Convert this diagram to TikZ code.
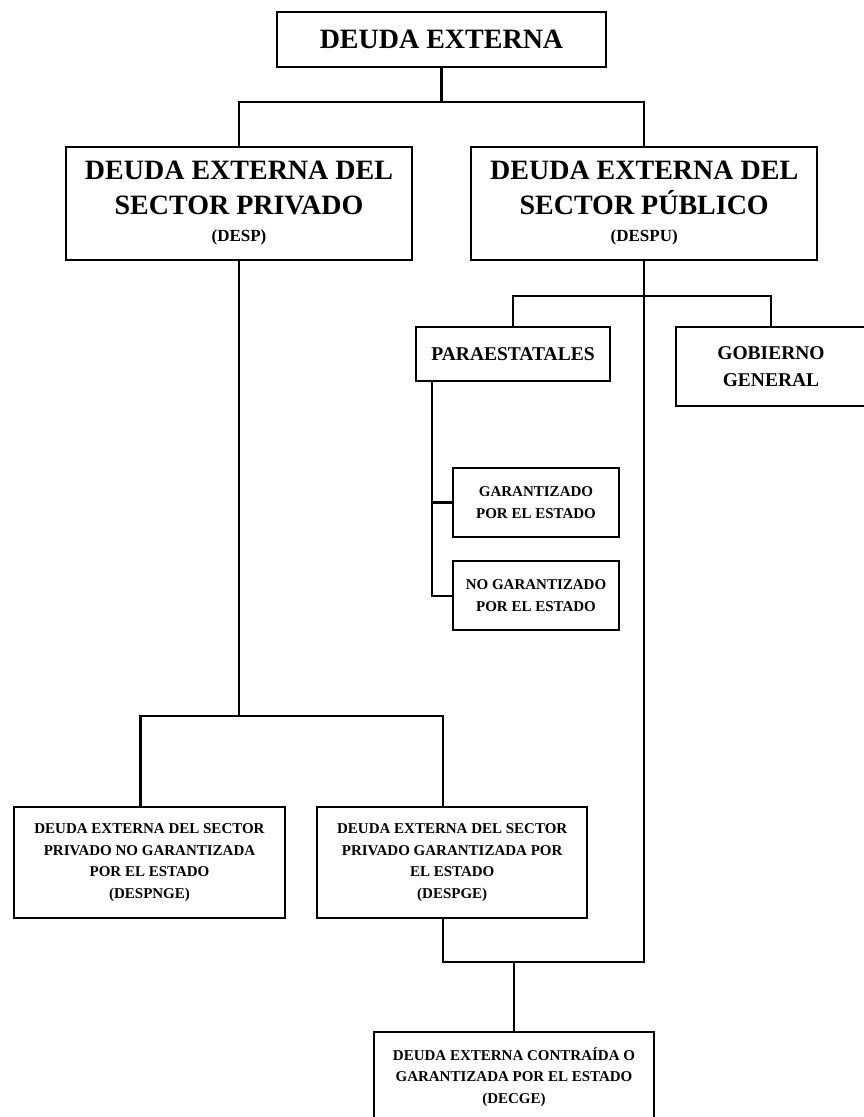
\documentclass[tikz,border=0pt]{standalone}
\usepackage{fontspec}
\setmainfont{Liberation Serif}
\usetikzlibrary{positioning,calc}

\begin{document}
\begin{tikzpicture}[
    x=1pt, y=-1pt,
    box/.style={rectangle, draw, line width=2.2pt, inner sep=0pt, align=center},
    bigbox/.style={box, minimum width=346pt, minimum height=113pt,
                   font=\bfseries\fontsize{28}{35}\selectfont},
    midbox/.style={box, font=\bfseries\fontsize{19.5}{27}\selectfont},
    smallbox/.style={box, font=\bfseries\fontsize{15}{21.5}\selectfont},
    conn/.style={line width=2.2pt},
  ]
    \useasboundingbox[fill=white] (0,0) rectangle (864,1117);
    \clip (0,0) rectangle (864,1117);

    % Level 1
    \node[box, minimum width=329pt, minimum height=55pt,
          font=\bfseries\fontsize{28}{35}\selectfont] (top) at (441.5,39.5) {DEUDA EXTERNA};

    % Level 2
    \node[bigbox] (despr) at (239,203.5) {DEUDA EXTERNA DEL\\SECTOR PRIVADO\\[-8pt]{\fontsize{17}{20}\selectfont (DESP)}};
    \node[bigbox, right=57pt of despr] (despu) {DEUDA EXTERNA DEL\\SECTOR PÚBLICO\\[-8pt]{\fontsize{17}{20}\selectfont (DESPU)}};

    % Public sector
    \node[midbox, minimum width=194pt, minimum height=54pt] (para) at (513,354) {PARAESTATALES};
    \node[midbox, minimum width=190pt, minimum height=79pt] (gob) at (771,366.5) {GOBIERNO\\GENERAL};
    \node[smallbox, minimum width=166pt, minimum height=69pt] (gar) at (536,502.5) {GARANTIZADO\\POR EL ESTADO};
    \node[smallbox, minimum width=166pt, minimum height=69pt, below=22pt of gar] (nogar) {NO GARANTIZADO\\POR EL ESTADO};

    % Private sector
    \node[smallbox, minimum width=271pt, minimum height=111pt] (despnge) at (149.5,862.5) {DEUDA EXTERNA DEL SECTOR\\PRIVADO NO GARANTIZADA\\POR EL ESTADO\\(DESPNGE)};
    \node[smallbox, minimum width=270pt, minimum height=111pt, right=30pt of despnge] (despge) {DEUDA EXTERNA DEL SECTOR\\PRIVADO GARANTIZADA POR\\EL ESTADO\\(DESPGE)};

    % Result
    \node[smallbox, minimum width=280pt, minimum height=90pt] (decge) at (514,1077) {DEUDA EXTERNA CONTRAÍDA O\\GARANTIZADA POR EL ESTADO\\(DECGE)};

    % Bars
    \coordinate (tbar) at (0,102);
    \coordinate (ubar) at (0,296);
    \coordinate (pbar) at (0,716);
    \coordinate (jbar) at (0,962);
    \coordinate (rail) at (432,0);

    % Connectors
    \draw[conn] (top.south) -- (top.south |- tbar);
    \draw[conn] (despr.north) -- (despr.north |- tbar) -- (despu.north |- tbar) -- (despu.north);
    \draw[conn] (para.north) -- (para.north |- ubar) -- (gob.north |- ubar) -- (gob.north);
    \draw[conn] (para.south -| rail) -- (nogar.west -| rail) -- (nogar.west);
    \draw[conn] (gar.west -| rail) -- (gar.west);
    \draw[conn] (despr.south) -- (despr.south |- pbar);
    \draw[conn] ([xshift=-9pt]despnge.north) -- ([xshift=-9pt]despnge.north |- pbar)
        -- ([xshift=-9pt]despge.north |- pbar) -- ([xshift=-9pt]despge.north);
    \draw[conn] (despu.south) -- (despu.south |- jbar)
        -- ([xshift=-9pt]despge.south |- jbar) -- ([xshift=-9pt]despge.south);
    \draw[conn] (decge.north) -- (decge.north |- jbar);
  \end{tikzpicture}
\end{document}
